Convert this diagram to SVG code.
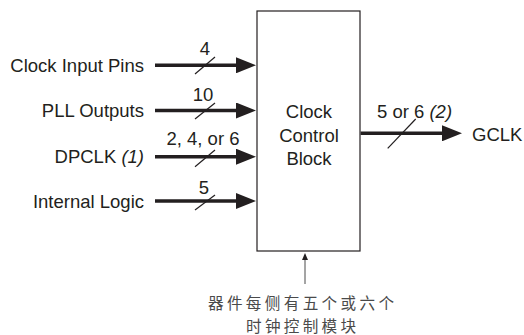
<svg xmlns="http://www.w3.org/2000/svg" width="524" height="335" viewBox="0 0 524 335">
<style>
text{font-family:"Liberation Sans",Arial,Helvetica,sans-serif;font-size:18.5px;fill:#231f20}
.lbl{text-anchor:end}
.bus{text-anchor:middle}
.it{font-style:italic}
.wire{stroke:#231f20;stroke-width:3.6;fill:none}
.slash{stroke:#231f20;stroke-width:1.2;fill:none}
.box{fill:#fff;stroke:#231f20;stroke-width:1.2}
.cjk{font-family:"Noto Sans CJK SC","Noto Sans CJK JP",sans-serif;font-size:15.6px;fill:#4a4a4a}
</style>
<defs>
<marker id="ah" markerUnits="userSpaceOnUse" markerWidth="20" markerHeight="16" refX="2" refY="8" orient="auto">
<path d="M0,0 L20,8 L0,16 Z" fill="#231f20"/>
</marker>
<marker id="ahs" markerUnits="userSpaceOnUse" markerWidth="7" markerHeight="6" refX="1" refY="3" orient="auto">
<path d="M0,0 L7,3 L0,6 Z" fill="#231f20"/>
</marker>
</defs>
<g id="clock-input-pins"><text class="lbl" x="144" y="71.5">Clock Input Pins</text></g>
<g id="pll-outputs"><text class="lbl" x="144" y="116.5">PLL Outputs</text></g>
<g id="dpclk"><text class="lbl" x="144" y="163">DPCLK <tspan class="it">(1)</tspan></text></g>
<g id="internal-logic"><text class="lbl" x="144" y="207.5">Internal Logic</text></g>
<g id="clock-control-block">
<rect class="box" x="257" y="11" width="103" height="240"/>
<text class="bus" x="309" y="117.5">Clock</text>
<text class="bus" x="309" y="141.5">Control</text>
<text class="bus" x="309" y="164.5">Block</text>
</g>
<g id="gclk"><text x="472" y="140.5">GCLK</text></g>
<g id="note">
<text class="cjk" x="208" y="309" textLength="186" lengthAdjust="spacing">器件每侧有五个或六个</text>
<text class="cjk" x="246" y="332" textLength="110" lengthAdjust="spacing">时钟控制模块</text>
</g>
<g id="connectors">
<line class="wire" x1="155" y1="65.3" x2="238" y2="65.3" marker-end="url(#ah)"/>
<line class="wire" x1="155" y1="110.5" x2="238" y2="110.5" marker-end="url(#ah)"/>
<line class="wire" x1="155" y1="156.7" x2="238" y2="156.7" marker-end="url(#ah)"/>
<line class="wire" x1="155" y1="201" x2="238" y2="201" marker-end="url(#ah)"/>
<line class="wire" x1="360.6" y1="133.3" x2="444" y2="133.3" marker-end="url(#ah)"/>
<line class="slash" x1="195" y1="74" x2="215" y2="57"/>
<line class="slash" x1="195" y1="119" x2="215" y2="103"/>
<line class="slash" x1="195" y1="166.7" x2="215" y2="150"/>
<line class="slash" x1="195" y1="210" x2="215" y2="195"/>
<line class="slash" x1="387.7" y1="148.3" x2="415.7" y2="119"/>
<text class="bus" x="205" y="55">4</text>
<text class="bus" x="203" y="101">10</text>
<text class="bus" x="203" y="145">2, 4, or 6</text>
<text class="bus" x="204" y="193.5">5</text>
<text x="377" y="118">5 or 6 <tspan class="it">(2)</tspan></text>
<line x1="305" y1="284" x2="305" y2="259" stroke="#4a4a4a" stroke-width="1" marker-end="url(#ahs)"/>
</g>
</svg>
